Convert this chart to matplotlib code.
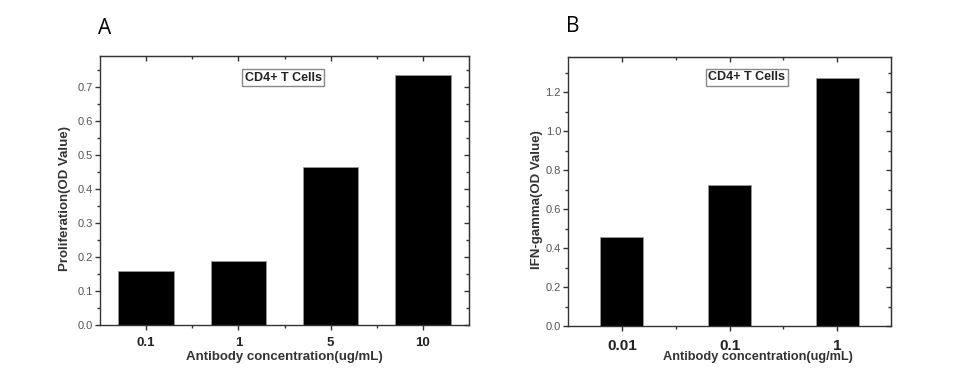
"""Two-panel bar chart: CD4+ T cell response vs antibody concentration."""
import matplotlib
matplotlib.use("Agg")
import matplotlib.pyplot as plt
import numpy as np

plt.rcParams["font.family"] = ["Liberation Sans", "DejaVu Sans"]

# panel A: proliferation
conc_a = ["0.1", "1", "5", "10"]
prolif = [0.158, 0.187, 0.465, 0.733]

# panel B: IFN-gamma
conc_b = ["0.01", "0.1", "1"]
ifn = [0.458, 0.723, 1.273]

XLABEL = "Antibody concentration(ug/mL)"
TXT = "#333333"


def style_axes(ax, n, ymax, ymajor, yminor, xfs):
    ax.set_xlim(-0.5, n - 0.5)
    ax.set_ylim(0, ymax)
    ax.set_xticks(np.arange(n))
    ax.set_xticks(np.arange(n - 1) + 0.5, minor=True)
    yt = np.arange(0, ymax + 1e-9, ymajor)
    ax.set_yticks(yt)
    ax.set_yticks(np.arange(0, ymax + 1e-9, yminor), minor=True)
    ax.set_yticklabels([f"{v:.1f}" for v in yt])
    for s in ax.spines.values():
        s.set_color("#333333")
        s.set_linewidth(1.0)
    ax.tick_params(which="both", direction="out", color="#333333", width=1.0)
    ax.tick_params(which="major", length=3.5)
    ax.tick_params(which="minor", length=2.5)
    ax.tick_params(axis="y", labelsize=8, labelcolor="#555555", pad=1.5)
    ax.tick_params(axis="x", labelsize=xfs, labelcolor="#222222", pad=5.5)
    for lbl in ax.get_xticklabels():
        lbl.set_fontweight("bold")
    # mirrored ticks pointing inwards on top and right
    top = ax.secondary_xaxis("top")
    top.set_xticks(np.arange(n))
    top.set_xticks(np.arange(n - 1) + 0.5, minor=True)
    top.set_xticklabels([])
    right = ax.secondary_yaxis("right")
    right.set_yticks(yt)
    right.set_yticks(np.arange(0, ymax + 1e-9, yminor), minor=True)
    right.set_yticklabels([])
    for sec in (top, right):
        sec.tick_params(which="both", direction="in", color="#333333", width=1.0)
        sec.tick_params(which="major", length=3.5)
        sec.tick_params(which="minor", length=2.5)
        for s in sec.spines.values():
            s.set_color("#333333")


fig = plt.figure(figsize=(9.6, 3.91), dpi=100)

ax1 = fig.add_axes([100 / 960, 1 - 325 / 391, 369 / 960, 269 / 391])
ax1.bar(np.arange(len(conc_a)), prolif, width=0.6, color="black",
        edgecolor="#999999", linewidth=0.6)
style_axes(ax1, len(conc_a), 0.79, 0.1, 0.05, 9.5)
ax1.set_xticklabels(conc_a)
ax1.set_xlabel(XLABEL, fontsize=9.5, fontweight="bold", color=TXT, va="center")
ax1.xaxis.set_label_coords(0.5, -0.119)
ax1.set_ylabel("Proliferation(OD Value)", fontsize=9.5, fontweight="bold",
               color=TXT, va="center")
ax1.yaxis.set_label_coords(-0.095, 0.47)
ax1.text(0.496, 0.92, "CD4+ T Cells", transform=ax1.transAxes, ha="center",
         va="center", fontsize=9, fontweight="bold", color="#222222",
         bbox=dict(boxstyle="square,pad=0.2", fc="white", ec="#888888", lw=1.0))

ax2 = fig.add_axes([568 / 960, 1 - 326 / 391, 323 / 960, 269 / 391])
ax2.bar(np.arange(len(conc_b)), ifn, width=0.4, color="black",
        edgecolor="#999999", linewidth=0.6)
style_axes(ax2, len(conc_b), 1.38, 0.2, 0.1, 11)
ax2.set_xticklabels(conc_b)
ax2.set_xlabel(XLABEL, fontsize=9.2, fontweight="bold", color=TXT, va="center")
ax2.xaxis.set_label_coords(0.588, -0.115)
ax2.set_ylabel("IFN-gamma(OD Value)", fontsize=9.5, fontweight="bold",
               color=TXT, va="center")
ax2.yaxis.set_label_coords(-0.096, 0.47)
ax2.text(0.554, 0.924, "CD4+ T Cells", transform=ax2.transAxes, ha="center",
         va="center", fontsize=9, fontweight="bold", color="#222222",
         bbox=dict(boxstyle="square,pad=0.2", fc="white", ec="#888888", lw=1.0))

fig.text(105 / 960, 1 - 28 / 391, "A", ha="center", va="center",
         fontsize=15, family=["Open Sans", "DejaVu Sans"])
fig.text(573 / 960, 1 - 27 / 391, "B", ha="center", va="center",
         fontsize=15, family=["Open Sans", "DejaVu Sans"])

fig.savefig("out.png", dpi=100)
